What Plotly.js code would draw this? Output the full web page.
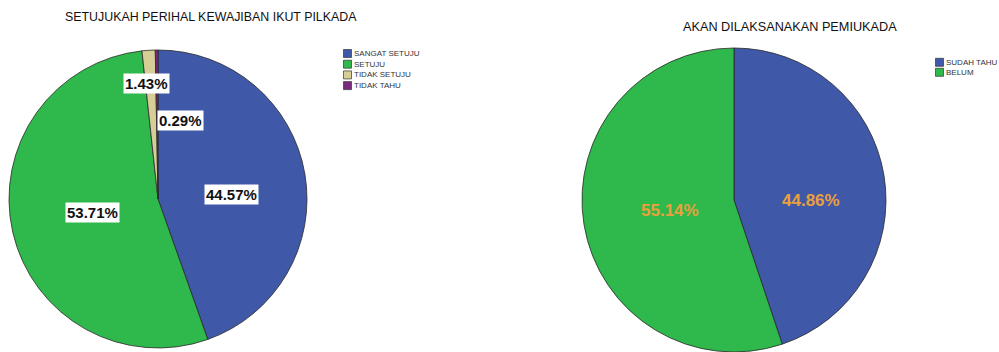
<!DOCTYPE html>
<html>
<head>
<meta charset="utf-8">
<script src="https://cdn.plot.ly/plotly-3.0.1.min.js"></script>
<style>
html,body{margin:0;padding:0;background:#fff;overflow:hidden;}
#chart{width:999px;height:352px;}
</style>
</head>
<body>
<div id="chart"></div>
<script>
// ---- Data ----
const leftTitle = "SETUJUKAH PERIHAL KEWAJIBAN IKUT PILKADA";
const leftLabels = ["SANGAT SETUJU", "SETUJU", "TIDAK SETUJU", "TIDAK TAHU"];
const leftValues = [44.57, 53.71, 1.43, 0.29];
const leftColors = ["#3f58a8", "#2fb84b", "#d6cd97", "#7b2a7d"];

const rightTitle = "AKAN DILAKSANAKAN PEMIUKADA";
const rightLabels = ["SUDAH TAHU", "BELUM"];
const rightValues = [44.86, 55.14];
const rightColors = ["#3f58a8", "#2fb84b"];

// ---- Layout geometry (pixels) ----
const W = 999, H = 352;
const leftPie = {cx: 158, cy: 199, r: 149};
const rightPie = {cx: 734, cy: 200, r: 152};
// label placement: radial fraction and pixel nudges
const leftPlace = [{f: 0.5, dx: 0, dy: 8}, {f: 0.49, dx: 6, dy: -3}, {f: 0.78, dx: -4, dy: 0}, {f: 0.53, dx: 23, dy: 0}];
const rightPlace = [{f: 0.51, dx: 0, dy: 13}, {f: 0.45, dx: 4, dy: 0}];

function px(x){ return x / W; }
function py(y){ return 1 - y / H; }

function pieTrace(labels, values, colors, g){
  return {
    type: 'pie', labels: labels, values: values, sort: false,
    direction: 'clockwise', rotation: 0, textinfo: 'none', hoverinfo: 'label+percent',
    marker: {colors: colors, line: {color: '#2a2a2a', width: 0.8}},
    domain: {x: [px(g.cx - g.r), px(g.cx + g.r)], y: [Math.max(0, py(g.cy + g.r)), py(g.cy - g.r)]},
    showlegend: false
  };
}

function labelAnnotations(values, g, place, style){
  const total = values.reduce((a, b) => a + b, 0);
  let cum = 0;
  return values.map((v, i) => {
    const mid = (cum + v / 2) / total * 2 * Math.PI;
    cum += v;
    const p = place[i];
    const x = g.cx + p.f * g.r * Math.sin(mid) + p.dx;
    const y = g.cy - p.f * g.r * Math.cos(mid) + p.dy;
    return Object.assign({
      xref: 'paper', yref: 'paper', x: px(x), y: py(y), xanchor: 'center', yanchor: 'middle',
      showarrow: false, text: (v / total * 100).toFixed(2) + '%'
    }, style);
  });
}

function legendItems(labels, colors, x0, y0, step){
  const shapes = [], anns = [];
  labels.forEach((lab, i) => {
    const yc = y0 + i * step;
    shapes.push({type: 'rect', xref: 'paper', yref: 'paper',
      x0: px(x0), x1: px(x0 + 8), y0: py(yc + 4), y1: py(yc - 4),
      fillcolor: colors[i], line: {color: '#333', width: 0.7}});
    anns.push({xref: 'paper', yref: 'paper', x: px(x0 + 8.5), y: py(yc), xanchor: 'left', yanchor: 'middle',
      showarrow: false, text: lab, font: {family: 'Liberation Sans, Arial, sans-serif', size: 8, color: '#333'}});
  });
  return {shapes, anns};
}

const boldBlack = {font: {family: 'Liberation Sans, Arial, sans-serif', size: 15, color: '#111', weight: 'bold'},
  bgcolor: '#ffffff', borderpad: 1};
const orange = {font: {family: 'Liberation Sans, Arial, sans-serif', size: 17, color: '#eaa03c', weight: 'bold'}};

const legL = legendItems(leftLabels, leftColors, 343.5, 53.5, 10.7);
const legR = legendItems(rightLabels, rightColors, 935.5, 62.3, 10);

const titleFont = {family: 'Liberation Sans, Arial, sans-serif', size: 12.4, color: '#111'};
const annotations = [
  {xref: 'paper', yref: 'paper', x: px(211), y: py(17), xanchor: 'center', yanchor: 'middle', showarrow: false,
   text: leftTitle, font: titleFont},
  {xref: 'paper', yref: 'paper', x: px(790), y: py(27), xanchor: 'center', yanchor: 'middle', showarrow: false,
   text: rightTitle, font: Object.assign({}, titleFont, {size: 12.7})}
].concat(labelAnnotations(leftValues, leftPie, leftPlace, boldBlack))
 .concat(labelAnnotations(rightValues, rightPie, rightPlace, orange))
 .concat(legL.anns).concat(legR.anns);

const layout = {
  width: W, height: H, margin: {l: 0, r: 0, t: 0, b: 0},
  paper_bgcolor: '#ffffff', plot_bgcolor: '#ffffff',
  showlegend: false,
  annotations: annotations,
  shapes: legL.shapes.concat(legR.shapes)
};

Plotly.newPlot('chart', [pieTrace(leftLabels, leftValues, leftColors, leftPie),
                         pieTrace(rightLabels, rightValues, rightColors, rightPie)], layout,
               {displayModeBar: false, staticPlot: true});
</script>
</body>
</html>
